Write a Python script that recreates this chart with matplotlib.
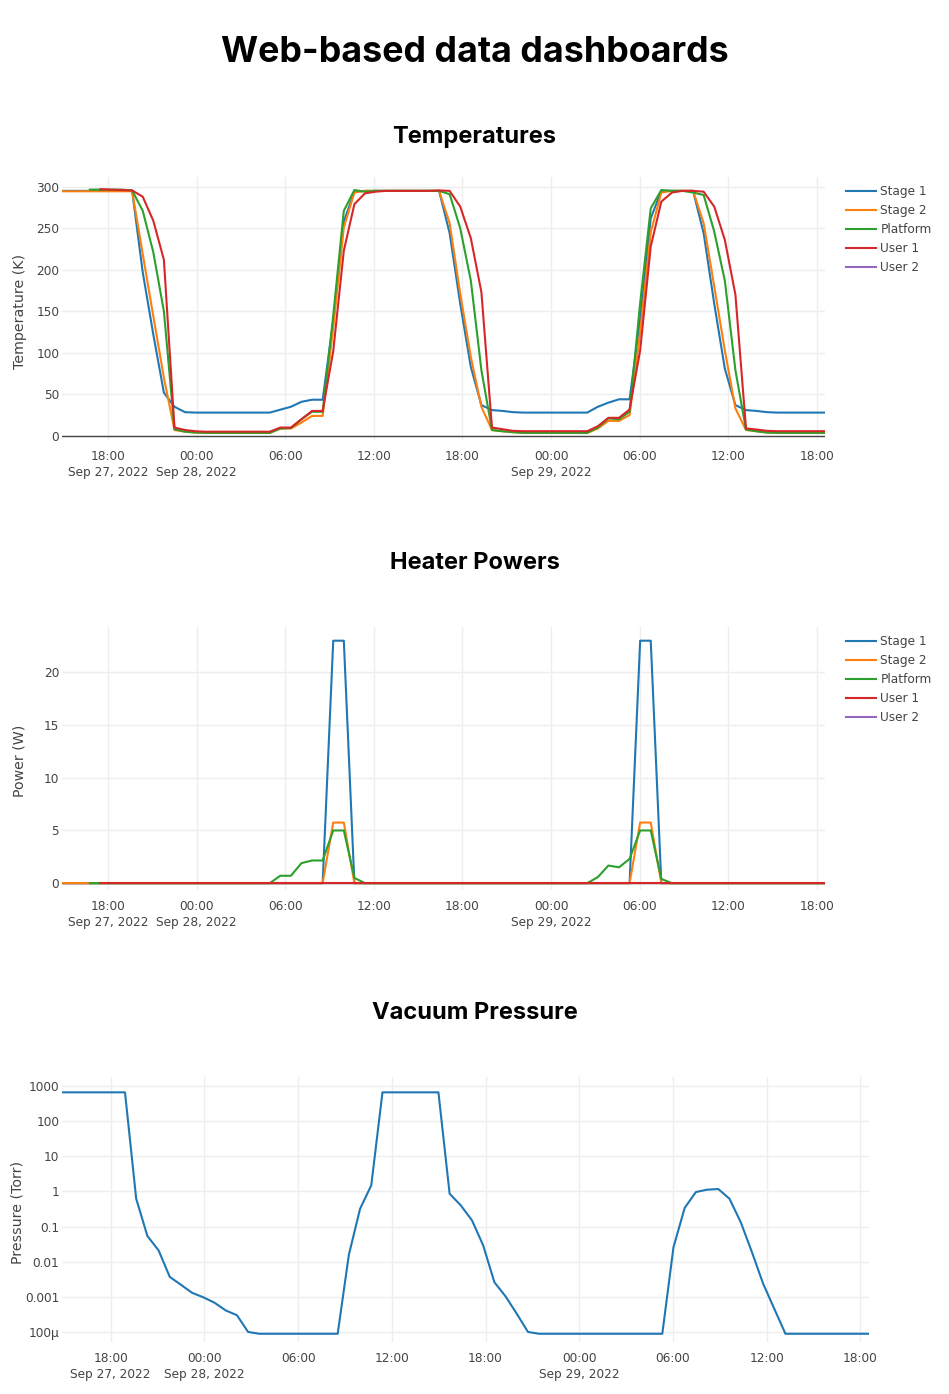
import matplotlib
matplotlib.use("Agg")
import matplotlib.pyplot as plt
import numpy as np
import pandas as pd

nan = np.nan

# sample times: one early reading, a 43-minute log grid, one late reading
times = pd.DatetimeIndex(
    [pd.Timestamp("2022-09-27 14:53")]
    + list(pd.date_range("2022-09-27 15:20", periods=72, freq="43min"))
    + [pd.Timestamp("2022-09-29 18:33")]
)

series_names = ["Stage 1", "Stage 2", "Platform", "User 1", "User 2"]
colors = ["#1f77b4", "#ff7f0e", "#2ca02c", "#d62728", "#9467bd"]

# temperatures (K)
temp_stage1 = ([295] * 8 + [197, 122, 52, 35, 28.5] + [28] * 8
               + [31.5, 35, 41, 43.5, 43.5, 138, 258, 294] + [295] * 8
               + [244, 159, 83, 37, 31, 30, 28.5] + [28] * 7
               + [35, 40, 44, 44, 140, 262, 295, 295, 295, 295]
               + [244, 159, 81, 37, 31, 30, 28.5] + [28] * 6)
temp_stage2 = ([294.5] * 8 + [219, 144, 70, 7, 5, 4] + [3.6] * 7
               + [8.8, 8.8, 16, 24, 24, 130, 251, 293] + [295] * 8
               + [256, 171, 95, 35, 7, 5.5, 4.4] + [3.6] * 7
               + [8.8, 18, 18, 25, 125, 245, 293, 295, 295, 295]
               + [256, 180, 103, 33, 7, 5.5, 4] + [3.6] * 6)
temp_platform = ([nan] * 3 + [296.5] * 4 + [295.5, 271, 221, 150, 8, 5, 4] + [3.6] * 7
                 + [8.8, 9.5, 20, 29, 29, 145, 271, 296, 294] + [295] * 7
                 + [291, 250, 187, 79, 7, 5.5, 4.4] + [3.6] * 7
                 + [10, 21, 20, 29, 160, 274, 296, 295, 295, 293]
                 + [290, 246, 187, 79, 7.6, 5.5, 4] + [3.6] * 6)
temp_user1 = ([nan] * 4 + [297, 296.5, 296, 295.5, 288, 259, 212, 10, 7, 5.5] + [5] * 7
              + [10, 10, 20, 30, 30, 102, 223, 279, 292, 294] + [295] * 5
              + [295.5, 295, 276, 238, 173, 10, 8, 6] + [5.6] * 7
              + [11.6, 21.7, 21.7, 31.7, 103, 228, 282, 293, 295, 295]
              + [294, 276, 236, 170, 9, 7.6, 6] + [5.6] * 6)
temp_user2 = [nan] * 74

# heater powers (W)
power_stage1 = [0] * 26 + [23, 23] + [0] * 27 + [23, 23] + [0] * 17
power_stage2 = [0] * 26 + [5.75, 5.75] + [0] * 27 + [5.75, 5.75] + [0] * 17
power_platform = ([nan] * 3 + [0] * 18 + [0.7, 0.7, 1.9, 2.15, 2.15, 5.0, 5.0, 0.5]
                  + [0] * 22 + [0.57, 1.67, 1.5, 2.3, 5.0, 5.0, 0.4] + [0] * 16)
power_user1 = [nan] * 4 + [0] * 70
power_user2 = [nan] * 74

# vacuum pressure (Torr)
pressure = ([660] * 7
            + [0.62, 0.054, 0.021, 0.0037, 0.0022, 0.0013, 0.00097, 0.00068,
               0.00041, 0.0003, 0.0001] + [8.9e-5] * 8
            + [0.0158, 0.32, 1.49] + [660] * 6
            + [0.86, 0.40, 0.15, 0.029, 0.0026, 0.00103, 0.00033, 0.0001]
            + [8.9e-5] * 12
            + [0.026, 0.34, 0.96, 1.12, 1.17, 0.62, 0.135, 0.019, 0.0024, 0.00046]
            + [8.9e-5] * 9)

tick_times = pd.date_range("2022-09-27 18:00", "2022-09-29 18:00", freq="6h")
tick_labels = ["18:00\nSep 27, 2022", "00:00\nSep 28, 2022", "06:00", "12:00", "18:00",
               "00:00\nSep 29, 2022", "06:00", "12:00", "18:00"]
p_ticks = [1e3, 1e2, 1e1, 1, 0.1, 0.01, 0.001, 1e-4]
p_labels = ["1000", "100", "10", "1", "0.1", "0.01", "0.001", "100\u03bc"]

W, H = 949, 1394
fig = plt.figure(figsize=(W / 100, H / 100), dpi=100)
plt.rcParams["font.family"] = ["DejaVu Sans"]
grey = "#444444"
tick_fs = 8.7
title_font = ["Inter", "DejaVu Sans"]


def px_axes(left, top, right, bottom):
    return fig.add_axes([left / W, 1 - bottom / H, (right - left) / W, (bottom - top) / H])


def style(ax, ylabel):
    for s in ax.spines.values():
        s.set_visible(False)
    ax.grid(True, color="#eeeeee", linewidth=1)
    ax.set_axisbelow(True)
    ax.set_xticks(tick_times)
    ax.set_xticklabels(tick_labels)
    ax.set_xlim(times[0], times[-1])
    ax.tick_params(length=0, labelsize=tick_fs, labelcolor=grey, pad=7)
    ax.tick_params(axis="y", pad=2)
    for lbl in ax.get_xticklabels():
        lbl.set_linespacing(1.35)
        lbl.set_verticalalignment("top")
    ax.set_ylabel(ylabel, fontsize=10.2, color=grey)
    ax.yaxis.set_label_coords(-0.046, 0.49)


def add_legend(ax, top_px):
    ax.legend(loc="upper left", bbox_to_anchor=(846 / W, 1 - top_px / H),
              bbox_transform=fig.transFigure, frameon=False, fontsize=8.7,
              handlelength=2.5, handletextpad=0.35, labelspacing=0.5,
              borderpad=0, borderaxespad=0, labelcolor=grey)


# Temperatures
ax1 = px_axes(62, 177, 825, 440)
for vals, name, c in zip([temp_stage1, temp_stage2, temp_platform, temp_user1, temp_user2],
                         series_names, colors):
    ax1.plot(times, vals, color=c, lw=1.5, label=name)
ax1.axhline(0, color=grey, lw=1, zorder=1.5)
ax1.set_ylim(-5, 311.7)
ax1.set_yticks([0, 50, 100, 150, 200, 250, 300])
style(ax1, "Temperature (K)")
add_legend(ax1, 185)

# Heater powers
ax2 = px_axes(62, 627, 825, 890)
for vals, name, c in zip([power_stage1, power_stage2, power_platform, power_user1, power_user2],
                         series_names, colors):
    ax2.plot(times, vals, color=c, lw=1.5, label=name)
ax2.axhline(0, color=grey, lw=1, zorder=1.5)
ax2.set_ylim(-0.65, 24.3)
ax2.set_yticks([0, 5, 10, 15, 20])
style(ax2, "Power (W)")
add_legend(ax2, 635)

# Vacuum pressure
ax3 = px_axes(62, 1077, 869, 1342)
ax3.plot(times, pressure, color=colors[0], lw=1.5)
ax3.set_yscale("log")
ax3.set_ylim(10 ** -4.285, 10 ** 3.256)
ax3.set_yticks(p_ticks)
ax3.set_yticklabels(p_labels)
ax3.minorticks_off()
style(ax3, "Pressure (Torr)")

fig.text(0.5, 1 - 53 / H, "Web-based data dashboards", ha="center", va="center",
         fontsize=25.8, fontweight="bold", family=title_font)
for y, t in [(137, "Temperatures"), (563, "Heater Powers"), (1013, "Vacuum Pressure")]:
    fig.text(0.5, 1 - y / H, t, ha="center", va="center", fontsize=17,
             fontweight="bold", family=title_font)

fig.savefig("out.png", dpi=100)
